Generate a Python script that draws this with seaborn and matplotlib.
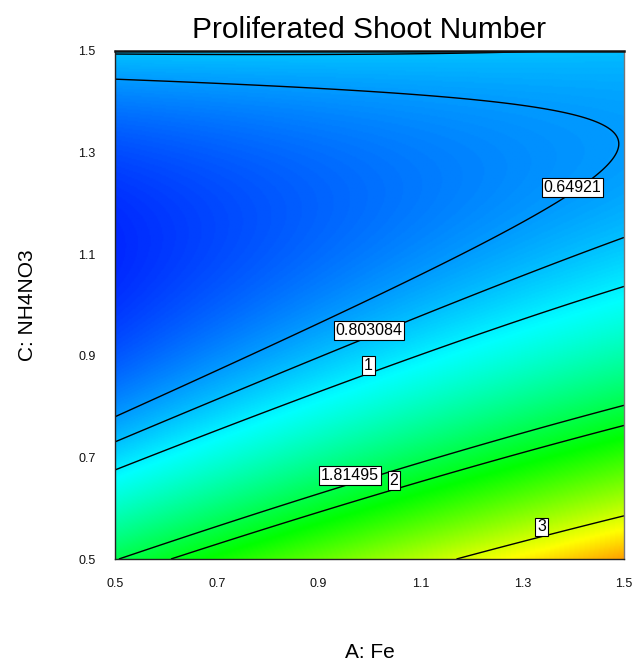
import numpy as np
import matplotlib
matplotlib.use("Agg")
import matplotlib.pyplot as plt
from matplotlib.colors import LinearSegmentedColormap
import seaborn as sns

# ---- data ----
# quadratic response-surface model in coded units x=(A-1)/0.5, y=(C-1)/0.5
coef_names = ["b0", "bA", "bC", "bAC", "bA2", "bC2"]
coef_values = [0.669, 0.436, -0.939, -0.451, -0.010, 1.09]
contour_levels = [0.64921, 0.803084, 1, 1.81495, 2, 3]
label_texts = ["0.64921", "0.803084", "1", "1.81495", "2", "3"]
label_A = [1.399, 0.999, 0.998, 0.961, 1.048, 1.338]
label_C = [1.231, 0.950, 0.881, 0.665, 0.655, 0.563]
x_ticks = [0.5, 0.7, 0.9, 1.1, 1.3, 1.5]
y_ticks = [0.5, 0.7, 0.9, 1.1, 1.3, 1.5]
color_min, color_max = 0.0, 4.25

sns.set_style("white")
plt.rcParams["font.family"] = ["Liberation Sans", "DejaVu Sans"]
plt.rcParams["text.color"] = "black"
plt.rcParams["axes.labelcolor"] = "black"

fig = plt.figure(figsize=(6.32, 6.64), dpi=100)
ax = fig.add_axes([115 / 632, 1 - 559 / 664, (624 - 115) / 632, (559 - 50.7) / 664])

A = np.linspace(0.5, 1.5, 401)
C = np.linspace(0.5, 1.5, 401)
AA, CC = np.meshgrid(A, C)
x = (AA - 1) / 0.5
y = (CC - 1) / 0.5
b0, bA, bC, bAC, bA2, bC2 = coef_values
Z = b0 + bA * x + bC * y + bAC * x * y + bA2 * x ** 2 + bC2 * y ** 2

cmap = LinearSegmentedColormap.from_list(
    "de", ["#0000ff", "#00ffff", "#00ff00", "#ffff00", "#ff0000"])
ax.imshow(Z, extent=[0.5, 1.5, 0.5, 1.5], origin="lower", aspect="auto",
          cmap=cmap, vmin=color_min, vmax=color_max, interpolation="bilinear")
ax.contour(AA, CC, Z, levels=contour_levels, colors="black", linewidths=1.0)

for t, a, c in zip(label_texts, label_A, label_C):
    ax.text(a, c, t, ha="center", va="center", fontsize=11.5, color="black",
            bbox=dict(boxstyle="square,pad=0.12", fc="white", ec="black", lw=0.8),
            zorder=5)

ax.set_xlim(0.5, 1.5)
ax.set_ylim(0.5, 1.5)
ax.set_xticks(x_ticks)
ax.set_yticks(y_ticks)
ax.set_xticklabels([f"{v:.1f}" for v in x_ticks])
ax.set_yticklabels([f"{v:.1f}" for v in y_ticks])
ax.tick_params(axis="both", direction="out", length=10, width=1, color="#333333",
               labelsize=9, labelcolor="#111111", pad=4)

for side in ["left", "bottom"]:
    ax.spines[side].set_color("#222222")
    ax.spines[side].set_linewidth(1.0)
ax.spines["top"].set_color("#111111")
ax.spines["top"].set_linewidth(1.8)
ax.spines["right"].set_color("#777777")
ax.spines["right"].set_linewidth(1.0)

ax.set_title("Proliferated Shoot Number", fontsize=21.5, pad=9.5, color="black")
ax.set_xlabel("A: Fe", fontsize=15, color="black")
ax.set_ylabel("C: NH4NO3", fontsize=15, color="black")
ax.xaxis.set_label_coords(0.5, -0.165)
ax.yaxis.set_label_coords(-0.154, 0.5)

fig.savefig("out.png", dpi=100)
